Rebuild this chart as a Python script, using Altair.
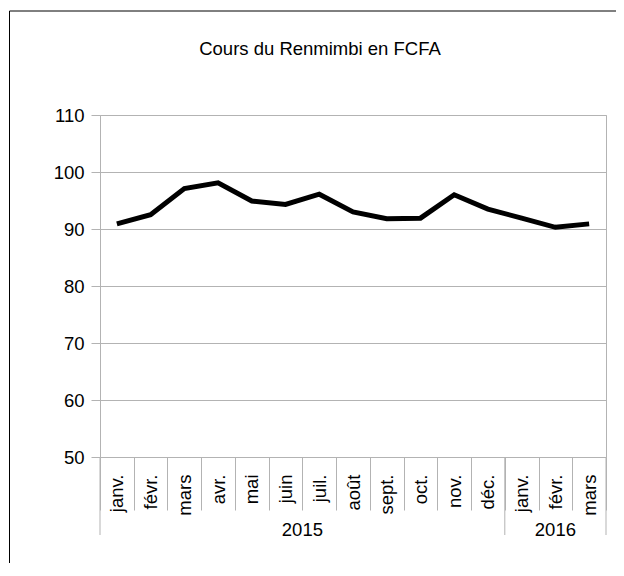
import altair as alt
import pandas as pd

months = ["janv.", "févr.", "mars", "avr.", "mai", "juin", "juil.", "août",
          "sept.", "oct.", "nov.", "déc.", "janv.", "févr.", "mars"]
years = ["2015"] * 12 + ["2016"] * 3
values = [90.9, 92.5, 97.1, 98.1, 94.9, 94.3, 96.1, 93.0, 91.8, 91.9,
          96.0, 93.5, 91.9, 90.3, 90.9]
year_labels = ["2015", "2016"]
year_counts = [12, 3]
y_ticks = [50, 60, 70, 80, 90, 100, 110]

W, H = 506, 342
GRAY = "#b3b3b3"
FONT = "Liberation Sans"
FS = 18.5

keys = [f"{i:02d}" for i in range(len(months))]
df = pd.DataFrame({"key": keys, "month": months, "year": years, "value": values})

# year group boundaries and centres (in month units)
starts = [sum(year_counts[:i]) for i in range(len(year_counts))]
ends = [s + c for s, c in zip(starts, year_counts)]
bounds = pd.DataFrame({"b": sorted(set(starts + ends))})
ycent = pd.DataFrame({"year": year_labels,
                      "c": [(s + e) / 2 for s, e in zip(starts, ends)]})
total = sum(year_counts)

label_map = "{" + ",".join(f"'{k}':'{m}'" for k, m in zip(keys, months)) + "}"

xband = alt.X(
    "key:O",
    scale=alt.Scale(type="band", paddingInner=0, paddingOuter=0),
    bandPosition=0.5,
    axis=alt.Axis(
        title=None,
        labelExpr=f"{label_map}[datum.value]",
        labelAngle=270,
        labelAlign="right",
        labelBaseline="middle",
        labelFont=FONT, labelFontSize=FS, labelColor="black",
        labelPadding=-36,
        labelOverlap=False,
        tickBand="extent",
        tickSize=53,
        tickColor=GRAY,
        domain=False,
        grid=False,
    ),
)

line = alt.Chart(df).mark_line(color="black", strokeWidth=5).encode(
    x=xband,
    y=alt.Y(
        "value:Q",
        scale=alt.Scale(domain=[50, 110], nice=False, zero=False),
        axis=alt.Axis(
            title=None, values=y_ticks,
            labelFont=FONT, labelFontSize=FS, labelColor="black",
            labelPadding=7, tickSize=9, tickColor=GRAY,
            gridColor=GRAY, domain=False,
        ),
    ),
)

xq = alt.Scale(domain=[0, total], nice=False, zero=False)

year_rules = alt.Chart(bounds).mark_rule(color=GRAY, strokeWidth=1).encode(
    x=alt.X("b:Q", scale=xq, axis=None),
    y=alt.value(H),
    y2=alt.value(H + 78),
)

year_text = alt.Chart(ycent).mark_text(
    font=FONT, fontSize=FS, color="black", baseline="alphabetic", align="center"
).encode(
    x=alt.X("c:Q", scale=xq, axis=None),
    y=alt.value(H + 79),
    text="year:N",
)

one = pd.DataFrame({"f": [0]})
frame_top = alt.Chart(one).mark_rule(color="black", strokeWidth=1).encode(
    x=alt.value(-90.5), x2=alt.value(W + 300), y=alt.value(-104),
)
frame_left = alt.Chart(one).mark_rule(color="black", strokeWidth=1).encode(
    x=alt.value(-90.5), y=alt.value(-104), y2=alt.value(H + 300),
)

chart = alt.layer(line, year_rules, year_text, frame_top, frame_left).resolve_scale(
    x="independent"
).properties(
    width=W, height=H,
    title=alt.TitleParams(
        "Cours du Renmimbi en FCFA", font=FONT, fontSize=FS, fontWeight="normal",
        color="black", anchor="middle", frame="group", dx=-33, offset=0,
        dy=63, baseline="alphabetic",
    ),
    autosize=alt.AutoSizeParams(type="none"),
    padding={"left": 92, "top": 107, "right": 10, "bottom": 106},
).configure_view(stroke=GRAY, strokeWidth=1)

chart.save("out.html", embed_options={"renderer": "svg", "actions": False})
